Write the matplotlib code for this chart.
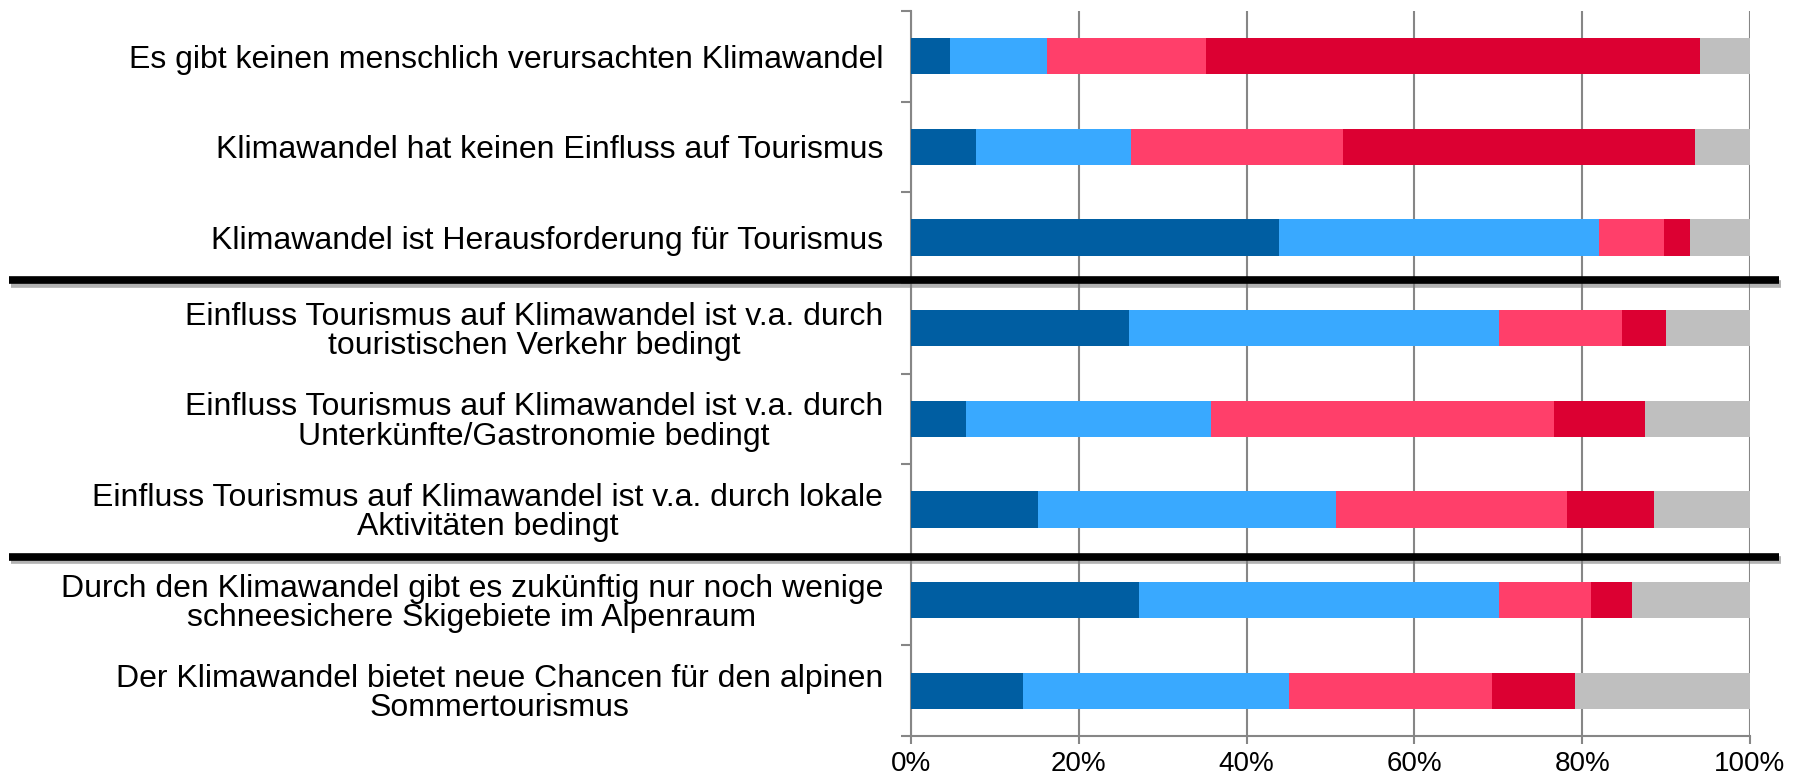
import matplotlib
matplotlib.use("Agg")
import matplotlib.pyplot as plt
import matplotlib.patheffects as pe
from matplotlib.transforms import blended_transform_factory
import numpy as np

categories = [
    "Es gibt keinen menschlich verursachten Klimawandel",
    "Klimawandel hat keinen Einfluss auf Tourismus",
    "Klimawandel ist Herausforderung für Tourismus",
    "Einfluss Tourismus auf Klimawandel ist v.a. durch\ntouristischen Verkehr bedingt",
    "Einfluss Tourismus auf Klimawandel ist v.a. durch\nUnterkünfte/Gastronomie bedingt",
    "Einfluss Tourismus auf Klimawandel ist v.a. durch lokale\nAktivitäten bedingt",
    "Durch den Klimawandel gibt es zukünftig nur noch wenige\nschneesichere Skigebiete im Alpenraum",
    "Der Klimawandel bietet neue Chancen für den alpinen\nSommertourismus",
]

# shares per answer category (percent)
stimme_voll_zu = [4.7, 7.7, 43.9, 26.0, 6.5, 15.1, 27.2, 13.3]
stimme_eher_zu = [11.5, 18.5, 38.1, 44.1, 29.3, 35.5, 42.9, 31.8]
stimme_eher_nicht_zu = [19.0, 25.3, 7.7, 14.7, 40.8, 27.6, 10.9, 24.1]
stimme_nicht_zu = [58.9, 42.0, 3.1, 5.2, 10.9, 10.3, 4.9, 9.9]
weiss_nicht = [5.9, 6.5, 7.2, 10.0, 12.5, 11.5, 14.1, 20.9]

series = [stimme_voll_zu, stimme_eher_zu, stimme_eher_nicht_zu, stimme_nicht_zu, weiss_nicht]
colors = ["#005EA2", "#39A9FF", "#FF3F6A", "#DC0032", "#BFBFBF"]

plt.rcParams["font.family"] = ["Liberation Sans", "DejaVu Sans"]

fig = plt.figure(figsize=(17.97, 7.82), dpi=100)
ax = fig.add_axes([911 / 1797, 1 - 736 / 782, (1750 - 911) / 1797, (736 - 11) / 782])

y = np.arange(len(categories))
left = np.zeros(len(categories))
for vals, col in zip(series, colors):
    vals = np.array(vals)
    ax.barh(y, vals / 100, left=left, height=0.4, color=col, zorder=3)
    left += vals / 100

ax.set_xlim(0, 1)
ax.set_ylim(len(categories) - 0.5, -0.5)

ax.set_xticks(np.linspace(0, 1, 6))
ax.set_xticklabels([f"{int(v)}%" for v in np.linspace(0, 100, 6)], fontsize=20)
ax.xaxis.grid(True, color="#868686", linewidth=1.5, zorder=0)
ax.tick_params(axis="x", direction="out", length=6, width=1.5, color="#868686", pad=5)

ax.set_yticks(y)
ax.set_yticklabels(categories, fontsize=23, multialignment="center", linespacing=0.97)
ax.tick_params(axis="y", which="major", length=0, pad=20)
ax.set_yticks(np.arange(-0.5, len(categories), 1), minor=True)
ax.tick_params(axis="y", which="minor", direction="out", length=7.5, width=1.5, color="#868686")

for side in ["top", "right"]:
    ax.spines[side].set_visible(False)
for side in ["left", "bottom"]:
    ax.spines[side].set_color("#868686")
    ax.spines[side].set_linewidth(1.5)

# thick separators across the whole figure
trans = blended_transform_factory(fig.transFigure, ax.transData)
for yb in [2.47, 5.52]:
    ax.plot([9 / 1797, 1779 / 1797], [yb, yb], transform=trans, color="black",
            linewidth=5.5, clip_on=False, zorder=5, solid_capstyle="butt",
            path_effects=[pe.SimpleLineShadow(offset=(1.5, -2.5), shadow_color="#7f7f7f", alpha=0.6),
                          pe.Normal()])

fig.savefig("out.png", dpi=100, facecolor="white")
